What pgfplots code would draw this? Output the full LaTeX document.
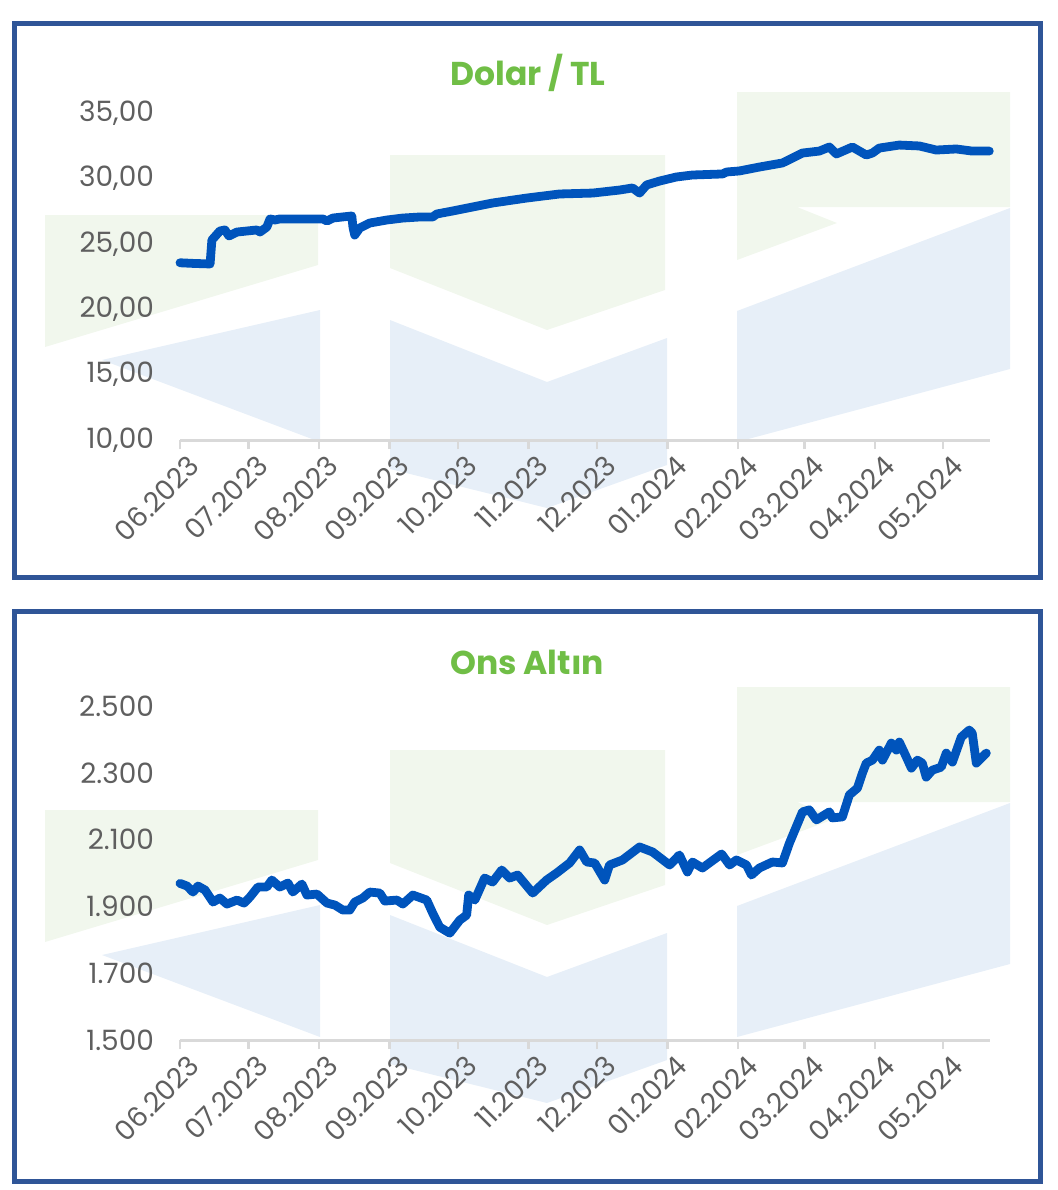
\documentclass[border=0pt]{standalone}
\usepackage{pgfplots}
\pgfplotsset{compat=1.18}
\usepackage{fontspec}
\setmainfont{Poppins}
\definecolor{framecol}{RGB}{47,85,151}
\definecolor{lineblue}{RGB}{0,84,188}
\definecolor{titlegreen}{RGB}{112,190,70}
\definecolor{labelgray}{RGB}{95,95,95}
\definecolor{axisgray}{RGB}{217,217,217}
\definecolor{wmg}{RGB}{241,247,237}
\definecolor{wmb}{RGB}{231,239,248}
\pgfplotsset{mystyle/.style={
 scale only axis, xmin=0, xmax=355.5, enlargelimits=false, clip=false,
 axis x line=bottom, axis y line=left,
 x axis line style={draw=axisgray, line width=1.5pt, -},
 y axis line style={draw=none},
 xtick={0,30,61,92,122,153,183,214,245,274,305,335},
 xticklabels={06.2023,07.2023,08.2023,09.2023,10.2023,11.2023,12.2023,01.2024,02.2024,03.2024,04.2024,05.2024},
 x tick style={draw=axisgray, line width=1.2pt},
 y tick style={draw=none},
 tick align=outside, major tick length=4.5pt,
 x tick label style={rotate=45, anchor=north east, font=\fontsize{13.8}{15}\selectfont, text=labelgray, inner sep=1pt, yshift=-3pt, xshift=2pt},
 y tick label style={font=\fontsize{14}{16}\selectfont, text=labelgray, xshift=-5pt},
 scaled y ticks=false,
 /pgf/number format/assume math mode=true,
}}
\begin{document}
\begin{tikzpicture}[x=0.5pt,y=-0.5pt]
\useasboundingbox (0,0) rectangle (1057,1190);
\foreach \s in {0,595}{
\begin{scope}[shift={(0,\s)}]
\fill[wmg] (45,215) -- (318,215) -- (318,265) -- (45,347) -- cycle;
\fill[wmg] (390,155) -- (665,155) -- (665,290) -- (547,330) -- (390,268) -- cycle;
\fill[wmg] (737,92) -- (1010,92) -- (1010,207) -- (797,207) -- (837,223) -- (737,260) -- cycle;
\fill[wmb] (102,360) -- (320,310) -- (320,442) -- cycle;
\fill[wmb] (390,320) -- (547,382) -- (667,338) -- (667,465) -- (547,508) -- (390,469) -- cycle;
\fill[wmb] (737,311) -- (1010,208) -- (1010,369) -- (737,442) -- cycle;
\end{scope}}
\begin{axis}[mystyle, at={(90pt,-220pt)}, anchor=south west, width=405pt, height=163.5pt,
 ymin=10, ymax=35, ytick={10,15,20,25,30,35},
 y tick label style={/pgf/number format/fixed, /pgf/number format/fixed zerofill, /pgf/number format/precision=2, /pgf/number format/use comma}]
\addplot[line width=4.4pt, color=lineblue, line join=round, line cap=round] coordinates {
(0,23.55)(6,23.50)(13.2,23.46)(14.0,25.29)(17.5,25.98)(19.7,26.06)(21.5,25.60)(25.0,25.90)(33.8,26.06)(35.1,25.90)(38.1,26.28)(39.5,26.90)(41.7,26.82)(43.8,26.90)(53.9,26.90)(62.7,26.90)(64.5,26.74)(67.1,26.97)(75.4,27.13)(75.9,26.28)(76.7,25.67)(78.9,26.21)(83.3,26.59)(90.8,26.82)(97.8,26.97)(105.2,27.05)(110.9,27.05)(112.7,27.28)(119.7,27.51)(126.3,27.74)(137.2,28.12)(152.2,28.50)(166.6,28.81)(181.1,28.88)(192.9,29.11)(198.6,29.27)(201.7,28.88)(204.8,29.50)(210.5,29.80)(217.9,30.11)(224.9,30.26)(238.1,30.34)(239.9,30.49)(245.5,30.57)(254.3,30.87)(264.4,31.18)(273.2,31.94)(280.6,32.09)(285.0,32.40)(288.1,31.87)(295.1,32.40)(301.2,31.79)(303.9,31.94)(306.9,32.32)(315.7,32.55)(324.5,32.48)(331.9,32.17)(340.7,32.25)(347.7,32.09)(355.2,32.09)
};
\end{axis}
\begin{axis}[mystyle, at={(90pt,-520pt)}, anchor=south west, width=405pt, height=167pt,
 ymin=1500, ymax=2500, ytick={1500,1700,1900,2100,2300,2500},
 y tick label style={/pgf/number format/fixed, /pgf/number format/precision=0, /pgf/number format/1000 sep={.}}]
\addplot[line width=4.4pt, color=lineblue, line join=round, line cap=round] coordinates {
(0,1969)(3.1,1961)(5.7,1943)(7.9,1961)(11.0,1949)(14.5,1913)(17.5,1925)(20.6,1907)(25.0,1919)(28.1,1910)(30.7,1928)(34.2,1958)(38.1,1958)(40.3,1979)(43.8,1958)(47.4,1970)(49.5,1943)(53.5,1967)(55.7,1934)(60.1,1937)(64.5,1910)(68.0,1904)(71.5,1889)(74.5,1889)(76.7,1913)(80.2,1925)(83.3,1943)(87.7,1940)(89.9,1916)(95.2,1919)(97.8,1907)(102.2,1934)(108.3,1919)(110.9,1880)(114.0,1838)(118.4,1820)(122.8,1859)(125.8,1874)(126.7,1934)(129.4,1919)(133.7,1985)(137.2,1973)(141.2,2009)(144.7,1985)(148.2,1994)(154.8,1940)(160.9,1979)(165.3,2000)(171.0,2030)(175.4,2069)(178.5,2033)(182.0,2030)(186.4,1979)(188.5,2024)(194.2,2039)(201.7,2078)(207.4,2063)(214.9,2024)(219.2,2054)(222.7,2003)(224.9,2033)(229.3,2015)(237.7,2057)(241.2,2024)(244.2,2039)(248.6,2024)(250.8,1994)(254.3,2015)(260.0,2033)(264.4,2030)(267.5,2090)(273.2,2183)(276.2,2189)(279.3,2159)(285.0,2183)(286.3,2165)(290.7,2168)(293.8,2234)(297.3,2254)(299.5,2299)(301.2,2329)(303.9,2338)(306.9,2368)(308.3,2338)(312.2,2389)(314.4,2368)(315.7,2392)(318.8,2347)(321.0,2314)(323.6,2338)(325.8,2329)(327.5,2287)(330.2,2308)(334.1,2317)(336.3,2359)(339.0,2332)(342.9,2407)(346.4,2428)(347.7,2419)(349.5,2329)(353.9,2359)
};
\end{axis}
\node[font=\bfseries\fontsize{16.5}{18}\selectfont, text=titlegreen] at (528,73) {Dolar / TL};
\node[font=\bfseries\fontsize{16.5}{18}\selectfont, text=titlegreen] at (527,662) {Ons Altın};
\draw[framecol, line width=2.5pt] (14.5,23) rectangle (1040,577);
\draw[framecol, line width=2.5pt] (14.5,611) rectangle (1040,1181);
\end{tikzpicture}
\end{document}
